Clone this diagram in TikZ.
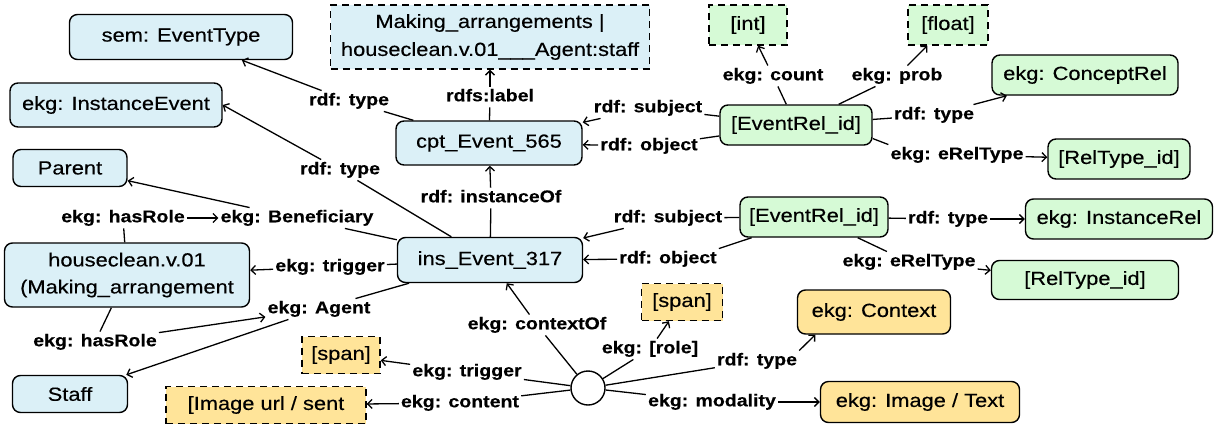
\documentclass[tikz,border=0pt]{standalone}
\usepackage{fontspec}
\setmainfont{Liberation Sans}[FakeStretch=1.15, UprightFeatures={FakeBold=0.35}, BoldFeatures={FakeBold=0.35}]
\usetikzlibrary{arrows.meta,calc}
\definecolor{bfill}{RGB}{219,240,247}
\definecolor{gfill}{RGB}{214,250,214}
\definecolor{ofill}{RGB}{255,228,153}
\tikzset{
 box/.style={draw=black, line width=1.4pt, rounded corners=8pt, inner sep=0pt, font=\fontsize{19}{27}\selectfont, align=center},
 dbox/.style={draw=black, line width=1.4pt, dash pattern=on 7pt off 5pt, inner sep=0pt, font=\fontsize{19}{28}\selectfont, align=center},
 bl/.style={fill=bfill}, gr/.style={fill=gfill}, og/.style={fill=ofill},
 lab/.style={font=\fontsize{17}{19}\selectfont\bfseries, inner sep=2pt, text height=12.5pt, text depth=4pt},
 link/.style={line width=1.3pt},
 arr/.style={line width=1.3pt, -{Straight Barb[length=4.5pt,width=9pt]}},
}
\begin{document}
\begin{tikzpicture}[x=1pt,y=-1pt]
\useasboundingbox (0,0) rectangle (1217,426);
% boxes
\node[box,bl,minimum width=223pt,minimum height=45pt] (evtype) at (181,37) {sem: EventType};
\node[dbox,bl,minimum width=319pt,minimum height=64pt] (making) at (490,37) {Making\_arrangements |\\houseclean.v.01\_\_\_Agent:staff};
\node[dbox,gr,minimum width=78pt,minimum height=40pt] (int) at (748,25) {[int]};
\node[dbox,gr,minimum width=80pt,minimum height=40pt] (float) at (948,25) {[float]};
\node[box,gr,minimum width=186pt,minimum height=40pt] (conceptrel) at (1085,75) {ekg: ConceptRel};
\node[box,bl,minimum width=212pt,minimum height=44pt] (instevent) at (116,105) {ekg: InstanceEvent};
\node[box,bl,minimum width=186pt,minimum height=44pt] (cpt) at (489,143) {cpt\_Event\_565};
\node[box,gr,minimum width=152pt,minimum height=40pt] (erel1) at (796,125) {[EventRel\_id]};
\node[box,gr,minimum width=142pt,minimum height=40pt] (reltype1) at (1119,159) {[RelType\_id]};
\node[box,bl,minimum width=114pt,minimum height=37pt] (parent) at (70,168) {Parent};
\node[box,gr,minimum width=148pt,minimum height=40pt] (erel2) at (814,217) {[EventRel\_id]};
\node[box,gr,minimum width=187pt,minimum height=40pt] (instrel) at (1119,219) {ekg: InstanceRel};
\node[box,bl,minimum width=245pt,minimum height=64pt] (house) at (127,275) {houseclean.v.01\\(Making\_arrangement};
\node[box,bl,minimum width=185pt,minimum height=45pt] (ins) at (490,260) {ins\_Event\_317};
\node[box,gr,minimum width=187pt,minimum height=39pt] (reltype2) at (1085,280) {[RelType\_id]};
\node[box,bl,minimum width=115pt,minimum height=37pt] (staff) at (70,394) {Staff};
\node[dbox,og,minimum width=78pt,minimum height=37pt] (span1) at (341,355) {[span]};
\node[dbox,og,minimum width=200pt,minimum height=37pt] (imgurl) at (266,405) {[Image url / sent};
\node[dbox,og,minimum width=81pt,minimum height=37pt] (span2) at (682,302) {[span]};
\node[box,og,minimum width=153pt,minimum height=44pt] (context) at (874,312) {ekg: Context};
\node[box,og,minimum width=199pt,minimum height=41pt] (imgtext) at (920,402) {ekg: Image / Text};
\node[circle,draw,line width=1.4pt,minimum size=34pt,inner sep=0pt,fill=white] (circ) at (588,388) {};
% labels
\node[lab] (lt1) at (349,101) {rdf: type};
\node[lab] (lt2) at (340,170) {rdf: type};
\node[lab] (lrdfs) at (490,97) {rdfs:label};
\node[lab] (lsub1) at (648,108) {rdf: subject};
\node[lab] (lobj1) at (649,146) {rdf: object};
\node[lab] (lcount) at (773,76) {ekg: count};
\node[lab] (lprob) at (897,76) {ekg: prob};
\node[lab] (lt3) at (934,115) {rdf: type};
\node[lab] (lerel1) at (957,155) {ekg: eRelType};
\node[lab] (linst) at (491,198) {rdf: instanceOf};
\node[lab] (lsub2) at (668,218) {rdf: subject};
\node[lab] (lobj2) at (668,259) {rdf: object};
\node[lab] (lt4) at (948,219) {rdf: type};
\node[lab] (lerel2) at (909,262) {ekg: eRelType};
\node[lab] (lhr1) at (123,218) {ekg: hasRole};
\node[lab] (lben) at (297,218) {ekg: Beneficiary};
\node[lab] (ltrig1) at (330,267) {ekg: trigger};
\node[lab] (lagent) at (319,309) {ekg: Agent};
\node[lab] (lhr2) at (95,342) {ekg: hasRole};
\node[lab] (lctx) at (537,325) {ekg: contextOf};
\node[lab] (lrole) at (650,349) {ekg: [role]};
\node[lab] (lt5) at (757,361) {rdf: type};
\node[lab] (ltrig2) at (467,372) {ekg: trigger};
\node[lab] (lcont) at (460,403) {ekg: content};
\node[lab] (lmod) at (712,402) {ekg: modality};
% connectors
\draw[arr] (lt1) -- (evtype);
\draw[link] (lt1) -- (cpt);
\draw[arr] (lt2) -- (instevent.east);
\draw[link] (lt2) -- (ins);
\draw[arr] (lrdfs) -- (making);
\draw[link] (lrdfs) -- (cpt);
\draw[arr] (lsub1) -- (cpt);
\draw[link] (erel1) -- (lsub1);
\draw[arr] (lobj1) -- (cpt);
\draw[link] (erel1) -- (lobj1);
\draw[arr] (lcount) -- (int);
\draw[link] (erel1) -- (lcount);
\draw[arr] (lprob) -- (float);
\draw[link] (erel1) -- (lprob);
\draw[arr] (lt3) -- (conceptrel);
\draw[link] (erel1) -- (lt3);
\draw[arr] (lerel1) -- (reltype1);
\draw[link] (erel1.-10) -- (lerel1.north west);
\draw[arr] (linst) -- (cpt);
\draw[link] (linst) -- (ins);
\draw[arr] (lsub2) -- (ins);
\draw[link] (erel2) -- (lsub2);
\draw[arr] (lobj2) -- (ins);
\draw[link] (erel2) -- (lobj2.north east);
\draw[arr] (lt4) -- (instrel);
\draw[link] (erel2) -- (lt4);
\draw[arr] (lerel2) -- (reltype2);
\draw[link] (erel2) -- (lerel2);
\draw[arr] (lhr1) -- (lben);
\draw[link] (lhr1) -- (house);
\draw[arr] (lben) -- (parent);
\draw[link] (lben) -- (ins);
\draw[arr] (ltrig1) -- (house);
\draw[link] (ltrig1) -- (ins);
\draw[link] (lagent) -- (ins);
\draw[arr] (lagent) -- (staff);
\draw[link] (house) -- (lhr2);
\draw[arr] (lhr2) -- (lagent);
\draw[arr] (lctx) -- (ins);
\draw[link] (circ) -- (lctx);
\draw[arr] (lrole) -- (span2);
\draw[link] (circ) -- (lrole);
\draw[arr] (lt5.north east) -- ($(context.south west)!0.12!(context.south east)$);
\draw[link] (circ) -- (lt5);
\draw[arr] (ltrig2) -- (span1);
\draw[link] (circ) -- (ltrig2);
\draw[arr] (lcont) -- (imgurl);
\draw[link] (circ) -- (lcont);
\draw[arr] (lmod) -- (imgtext);
\draw[link] (circ) -- (lmod);
\end{tikzpicture}
\end{document}
